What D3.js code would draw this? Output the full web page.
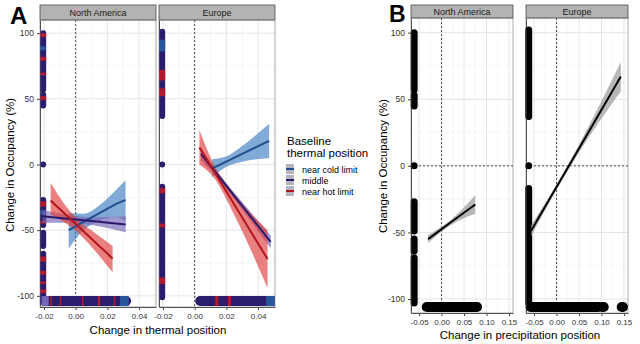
<!DOCTYPE html>
<html><head><meta charset="utf-8">
<script src="https://cdn.jsdelivr.net/npm/d3@7"></script>
<style>body{margin:0;background:#fff} text{font-family:"Liberation Sans",Arial,sans-serif}</style>
</head><body><script>
// Width and height
var w = 640, h = 344;

var regions = ["North America", "Europe"];
var groups = ["near cold limit", "middle", "near hot limit"];
var yTicks = [-100, -50, 0, 50, 100];
var yMinor = [-75, -25, 25, 75];
var xTicksA = [-0.02, 0, 0.02, 0.04];
var xTicksB = [-0.05, 0, 0.05, 0.10, 0.15];

// point clouds (heavily overplotted), as [region, x0, y0, x1, y1, colour]
var pointsA = [
  [0, -0.0205, 100, -0.0205, 57, "mid"], [0, -0.0205, 53, -0.0205, 45, "mid"], [0, -0.0205, 0, -0.0205, 0, "mid"],
  [0, -0.0205, -27, -0.0205, -46, "mid"], [0, -0.0205, -52, -0.0205, -62, "mid"], [0, -0.0205, -68, -0.0205, -101, "mid"],
  [1, -0.0205, 101, -0.0205, 37, "mid"], [1, -0.0205, 0, -0.0205, 0, "mid"], [1, -0.0205, -17, -0.0205, -101, "mid"]
];
var overA = [
  [0, -0.0205, 100, -0.0205, 97, "hot"], [0, -0.0205, 82, -0.0205, 79, "hot"], [0, -0.0205, 70, -0.0205, 68, "hot"],
  [0, -0.0205, 52, -0.0205, 49, "hot"], [0, -0.0205, -28, -0.0205, -32, "hot"], [0, -0.0205, -43, -0.0205, -45, "hot"],
  [0, -0.0205, -70, -0.0205, -74, "hot"], [0, -0.0205, -81, -0.0205, -84, "hot"], [0, -0.0205, -89, -0.0205, -91, "hot"],
  [0, -0.0205, -95, -0.0205, -98, "hot"], [0, -0.0205, 90, -0.0205, 87, "cold"], [0, -0.0205, -35, -0.0205, -38, "cold"],
  [1, -0.0205, 72, -0.0205, 64, "hot"], [1, -0.0205, 58, -0.0205, 52, "hot"], [1, -0.0205, -18, -0.0205, -22, "hot"],
  [1, -0.0205, -45, -0.0205, -48, "hot"], [1, -0.0205, -86, -0.0205, -91, "hot"], [1, -0.0205, 95, -0.0205, 86, "cold"]
];
var baseA = [
  [0, -0.0195, -104, 0.0318, -104, "mid"], [1, 0.0035, -104, 0.0495, -104, "mid"]
];
var baseOverA = [
  [0, -0.0215, -104, -0.017, -104, "lav"],
  [0, -0.016, -104, -0.015, -104, "hot"], [0, -0.010, -104, -0.009, -104, "hot"], [0, 0.004, -104, 0.005, -104, "hot"],
  [0, 0.014, -104, 0.0155, -104, "hot"], [0, 0.024, -104, 0.025, -104, "hot"], [0, 0.028, -104, 0.0335, -104, "cold"],
  [1, 0.013, -104, 0.015, -104, "hot"], [1, 0.021, -104, 0.023, -104, "hot"], [1, 0.045, -104, 0.052, -104, "cold"]
];

// linear fits with confidence band: [region, group, x, fit, lower, upper]
var fitsA = [
  [0, 0, [-0.0044, 0.005, 0.015, 0.025, 0.0315], [-50, -43.7, -37, -30.3, -27], [-64, -50, -43, -40, -43], [-37, -37.5, -31, -20, -12]],
  [0, 1, [-0.021, -0.005, 0.01, 0.0316], [-39.5, -41.4, -43.1, -45.6], [-44.5, -44.4, -46.1, -51.6], [-34.5, -38.4, -40.1, -39.6]],
  [0, 2, [-0.0158, -0.005, 0.003, 0.013, 0.0233], [-27.4, -39.6, -48.6, -59.9, -71.5], [-38, -45.6, -53.6, -66.9, -82], [-14, -33.6, -43.6, -52.9, -62]],
  [1, 0, [0.011, 0.02, 0.03, 0.047], [-3, 2.2, 8.1, 18], [-10, -1.8, 2.1, 5], [4, 6.2, 14.1, 31]],
  [1, 1, [0.004, 0.015, 0.03, 0.048], [8, -8.75, -31.6, -59], [3, -11.25, -34.6, -64], [13, -6.25, -28.6, -54]],
  [1, 2, [0.003, 0.012, 0.025, 0.046], [13, -4.8, -30.5, -72], [0, -9.8, -38.5, -94], [26, 0.2, -22.5, -50]]
];

var pointsB = [
  [0, -0.061, 100, -0.061, 57], [0, -0.061, 53, -0.061, 45], [0, -0.061, 0, -0.061, 0],
  [0, -0.061, -27, -0.061, -49], [0, -0.061, -55, -0.061, -64], [0, -0.061, -69, -0.061, -103],
  [0, -0.033, -106, 0.079, -106],
  [1, -0.062, 102, -0.062, 37], [1, -0.062, 0, -0.062, 0], [1, -0.062, -17, -0.062, -103],
  [1, -0.058, -106, 0.093, -106], [1, 0.101, -106, 0.105, -106], [1, 0.145, -106, 0.148, -106]
];
var fitsB = [
  [0, [-0.03, 0.02, 0.075], [-55, -42.6, -29], [-58, -44.6, -36], [-52, -40.6, -22]],
  [1, [-0.057, 0.0, 0.05, 0.143], [-49, -15.9, 13.1, 67], [-53, -17.9, 10.1, 56], [-45, -13.9, 16.1, 78]]
];

var lineCol = ["#1f4f8f", "#2a1a6c", "#b3151c"];
var bandCol = ["#3f7cc0", "#7564b4", "#e03c3c"];
var ptCol = {cold: "#28569c", mid: "#2b1d6c", hot: "#ad1b2c", lav: "#7466b3"};

//Create SVG element
var svg = d3.select("body").append("svg").attr("width", w).attr("height", h);
var defs = svg.append("defs");

function facet(id, x0, x1, top, bottom, stripTop, xDomain, yDomain, xTicks, label, showY, hZero) {
  var x = d3.scaleLinear().domain(xDomain).range([x0, x1]);
  var y = d3.scaleLinear().domain(yDomain).range([bottom, top]);
  var g = svg.append("g");
  g.append("rect").attr("x", x0).attr("y", top).attr("width", x1 - x0).attr("height", bottom - top).attr("fill", "#fff");
  var xMinor = [];
  var step = xTicks[1] - xTicks[0];
  xTicks.forEach(function(t) {
    [t - step / 2, t + step / 2].forEach(function(v) {
      v = +v.toFixed(4);
      if (v > xDomain[0] && v < xDomain[1] && xMinor.indexOf(v) < 0) xMinor.push(v);
    });
  });
  g.selectAll(".xm").data(xMinor).enter().append("line")
    .attr("x1", d => x(d)).attr("x2", d => x(d)).attr("y1", top).attr("y2", bottom)
    .attr("stroke", "#f0f0f0").attr("stroke-width", 0.6);
  g.selectAll(".ym").data(yMinor).enter().append("line")
    .attr("y1", d => y(d)).attr("y2", d => y(d)).attr("x1", x0).attr("x2", x1)
    .attr("stroke", "#f0f0f0").attr("stroke-width", 0.6);
  g.selectAll(".xg").data(xTicks).enter().append("line")
    .attr("x1", d => x(d)).attr("x2", d => x(d)).attr("y1", top).attr("y2", bottom)
    .attr("stroke", "#e2e2e2").attr("stroke-width", 0.9);
  g.selectAll(".yg").data(yTicks).enter().append("line")
    .attr("y1", d => y(d)).attr("y2", d => y(d)).attr("x1", x0).attr("x2", x1)
    .attr("stroke", "#e2e2e2").attr("stroke-width", 0.9);
  g.append("line").attr("x1", x(0)).attr("x2", x(0)).attr("y1", top).attr("y2", bottom)
    .attr("stroke", "#222").attr("stroke-width", 0.8).attr("stroke-dasharray", "2,2");
  if (hZero) g.append("line").attr("x1", x0).attr("x2", x1).attr("y1", y(0)).attr("y2", y(0))
    .attr("stroke", "#222").attr("stroke-width", 0.8).attr("stroke-dasharray", "2,2");
  // strip
  svg.append("rect").attr("x", x0).attr("y", stripTop).attr("width", x1 - x0).attr("height", top - stripTop)
    .attr("fill", "#b3b3b3").attr("stroke", "#4d4d4d").attr("stroke-width", 0.8);
  svg.append("text").attr("x", (x0 + x1) / 2).attr("y", (top + stripTop) / 2 + 3.3).attr("text-anchor", "middle")
    .attr("font-size", "9px").attr("fill", "#1a1a1a").text(label);
  // axes
  var ax = svg.append("g").attr("transform", "translate(0," + bottom + ")")
    .call(d3.axisBottom(x).tickValues(xTicks).tickSize(3).tickSizeOuter(0));
  ax.select(".domain").attr("stroke", "#444");
  ax.selectAll("text").attr("font-size", "8px").attr("fill", "#333").attr("dy", "0.8em")
    .text(d => d3.format(".2f")(d).replace("−", "-"));
  ax.selectAll(".tick line").attr("stroke", "#444");
  var ay = svg.append("g").attr("transform", "translate(" + x0 + ",0)")
    .call(d3.axisLeft(y).tickValues(showY ? yTicks : []).tickSize(showY ? 3 : 0).tickSizeOuter(0));
  ay.select(".domain").attr("stroke", "#444");
  ay.selectAll("text").attr("font-size", "8.5px").attr("fill", "#333").text(d => String(d));
  ay.selectAll(".tick line").attr("stroke", "#444");
  defs.append("clipPath").attr("id", id).append("rect")
    .attr("x", x0 - 1).attr("y", top).attr("width", x1 - x0 + 1).attr("height", bottom - top);
  var data = svg.append("g").attr("clip-path", "url(#" + id + ")");
  svg.append("rect").attr("x", x0).attr("y", top).attr("width", x1 - x0).attr("height", bottom - top)
    .attr("fill", "none").attr("stroke", "#777").attr("stroke-width", 0.6);
  return {x: x, y: y, g: data};
}

function seg(f, d, col, thick, cap) {
  f.g.append("line").attr("x1", f.x(d[1])).attr("x2", f.x(d[3])).attr("y1", f.y(d[2])).attr("y2", f.y(d[4]))
    .attr("stroke", col).attr("stroke-width", thick).attr("stroke-linecap", cap);
}

// Panel A
var panelsA = [[40, 156], [159, 275]];
var fa = panelsA.map(function(p, i) {
  return facet("ca" + i, p[0], p[1], 20, 307, 5, [-0.0225, 0.0507], [-108.5, 110], xTicksA, regions[i], i === 0, false);
});
pointsA.forEach(d => seg(fa[d[0]], d, ptCol[d[5]], 6, "round"));
overA.forEach(d => seg(fa[d[0]], d, ptCol[d[5]], 6, "butt"));
baseA.forEach(d => seg(fa[d[0]], d, ptCol[d[5]], 10, "round"));
baseOverA.forEach(d => seg(fa[d[0]], d, ptCol[d[5]], 10, "butt"));

fitsA.forEach(function(d) {
  var f = fa[d[0]];
  var rows = d[2].map((v, i) => ({x: v, fit: d[3][i], lo: d[4][i], hi: d[5][i]}));
  f.g.append("path").datum(rows).attr("fill", bandCol[d[1]]).attr("fill-opacity", 0.65)
    .attr("d", d3.area().curve(d3.curveMonotoneX).x(r => f.x(r.x)).y0(r => f.y(r.lo)).y1(r => f.y(r.hi)));
});
fitsA.forEach(function(d) {
  var f = fa[d[0]];
  var rows = d[2].map((v, i) => ({x: v, fit: d[3][i]}));
  f.g.append("path").datum(rows).attr("fill", "none").attr("stroke", lineCol[d[1]]).attr("stroke-width", 2)
    .attr("d", d3.line().x(r => f.x(r.x)).y(r => f.y(r.fit)));
});

// Panel B
var panelsB = [[411, 513], [526, 628]];
var fb = panelsB.map(function(p, i) {
  return facet("cb" + i, p[0], p[1], 18, 313, 5, [-0.068, 0.159], [-110.5, 111], xTicksB, regions[i], i === 0, true);
});
pointsB.forEach(function(d) {
  var flat = d[2] === d[4] && d[1] !== d[3];
  seg(fb[d[0]], d, "#000", flat ? 10 : 7, "round");
});
fitsB.forEach(function(d) {
  var f = fb[d[0]];
  var rows = d[1].map((v, i) => ({x: v, fit: d[2][i], lo: d[3][i], hi: d[4][i]}));
  f.g.append("path").datum(rows).attr("fill", "#999").attr("fill-opacity", 0.7)
    .attr("d", d3.area().curve(d3.curveMonotoneX).x(r => f.x(r.x)).y0(r => f.y(r.lo)).y1(r => f.y(r.hi)));
  f.g.append("path").datum(rows).attr("fill", "none").attr("stroke", "#000").attr("stroke-width", 2)
    .attr("d", d3.line().x(r => f.x(r.x)).y(r => f.y(r.fit)));
});

// titles
svg.append("text").attr("x", 158).attr("y", 334).attr("text-anchor", "middle").attr("font-size", "11.5px").text("Change in thermal position");
svg.append("text").attr("x", 520).attr("y", 339).attr("text-anchor", "middle").attr("font-size", "11.5px").text("Change in precipitation position");
svg.append("text").attr("transform", "translate(14,165) rotate(-90)").attr("text-anchor", "middle").attr("font-size", "11.5px").text("Change in Occupancy (%)");
svg.append("text").attr("transform", "translate(387,166) rotate(-90)").attr("text-anchor", "middle").attr("font-size", "11.5px").text("Change in Occupancy (%)");
svg.append("text").attr("x", 10).attr("y", 24).attr("font-size", "24px").attr("font-weight", "bold").text("A");
svg.append("text").attr("x", 389).attr("y", 22).attr("font-size", "23px").attr("font-weight", "bold").text("B");

// legend
var leg = svg.append("g");
leg.append("text").attr("x", 287).attr("y", 145).attr("font-size", "11.5px").text("Baseline");
leg.append("text").attr("x", 287).attr("y", 157).attr("font-size", "11.5px").text("thermal position");
leg.selectAll(".key").data(groups).enter().append("g").each(function(d, i) {
  var gg = d3.select(this);
  var ky = 164 + i * 11;
  gg.append("rect").attr("x", 286).attr("y", ky).attr("width", 8).attr("height", 10).attr("fill", "#b4b4be");
  gg.append("line").attr("x1", 286).attr("x2", 294).attr("y1", ky + 5).attr("y2", ky + 5)
    .attr("stroke", lineCol[i]).attr("stroke-width", 2);
  gg.append("text").attr("x", 302).attr("y", ky + 8.5).attr("font-size", "9px").text(d);
});
</script></body></html>
